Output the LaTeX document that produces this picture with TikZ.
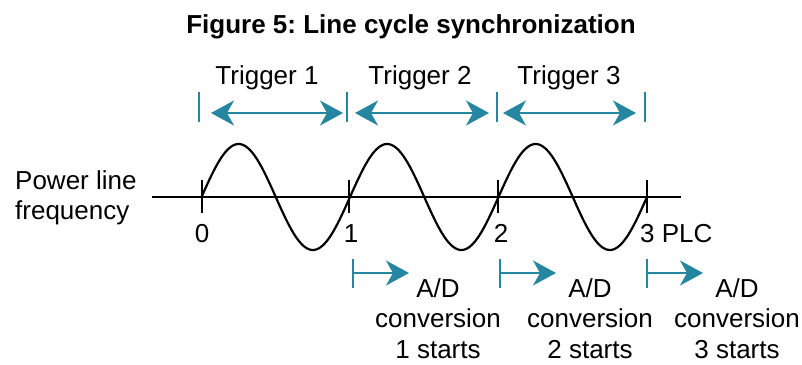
\documentclass[tikz,border=0pt]{standalone}
\usepackage{fontspec}
\setmainfont{Liberation Sans}
\usetikzlibrary{arrows.meta}
\definecolor{myteal}{RGB}{36,134,160}
\frenchspacing
\begin{document}
\begin{tikzpicture}[x=1pt,y=-1pt,
  lbl/.style={inner sep=0pt, font=\fontsize{26}{30.5}\selectfont},
  ttl/.style={inner sep=0pt, font=\fontsize{26}{30}\selectfont\bfseries},
  axisline/.style={line width=2pt, black},
  wave/.style={line width=2.2pt, black},
  bluetick/.style={line width=1.8pt, myteal},
  tip/.tip={Stealth[length=23pt,width=25pt,inset=7pt]},
  barrow/.style={line width=1.8pt, myteal, -tip},
  dbarrow/.style={line width=1.8pt, myteal, tip-tip}]
\useasboundingbox (0,0) rectangle (802,364);

% title
\node[ttl, anchor=base] (title) at (411,33) {Figure 5: Line cycle synchronization};

% trigger ticks
\foreach \n/\x in {0/199,1/347,2/497,3/645}{
  \coordinate (u\n) at (\x,92);
  \coordinate (l\n) at (\x,122);
  \draw[bluetick] (u\n) -- (l\n);
}
% trigger arrows
\coordinate (a1s) at (211,113); \coordinate (a1e) at (343,113);
\coordinate (a2s) at (355,113); \coordinate (a2e) at (489,113);
\coordinate (a3s) at (503,113); \coordinate (a3e) at (636,113);
\draw[dbarrow] (a1s) -- (a1e);
\draw[dbarrow] (a2s) -- (a2e);
\draw[dbarrow] (a3s) -- (a3e);
\node[lbl, anchor=base] (trig1) at (267,84) {Trigger 1};
\node[lbl, anchor=base] (trig2) at (420,84) {Trigger 2};
\node[lbl, anchor=base] (trig3) at (569,84) {Trigger 3};

% axis
\coordinate (axl) at (152,197);
\coordinate (axr) at (681,197);
\draw[axisline] (axl) -- (axr);
\foreach \n/\x in {0/201.5,1/349,2/498,3/647}{
  \coordinate (tt\n) at (\x,180);
  \coordinate (tb\n) at (\x,213);
  \draw[axisline] (tt\n) -- (tb\n);
}
% sine wave
\draw[wave, smooth] plot[domain=201.5:647, samples=240] (\x, {197-53*sin((\x-201.5)/148.5*360)});

% labels
\node[lbl, anchor=north west, align=left] (plf) at (15,170) {Power line\\frequency};
\node[lbl, anchor=base] (lab0) at (202,242) {0};
\node[lbl, anchor=base] (lab1) at (351,242) {1};
\node[lbl, anchor=base] (lab2) at (501,242) {2};
\node[lbl, anchor=base west] (lab3) at (640,242) {3 PLC};

% A/D conversion markers
\foreach \n/\x/\c in {1/353/438,2/500/590,3/647/737}{
  \coordinate (ct\n) at (\x,259);
  \coordinate (cb\n) at (\x,288);
  \coordinate (cs\n) at (\x,273);
  \coordinate (ce\n) at (\x+56,273);
  \draw[bluetick] (ct\n) -- (cb\n);
  \draw[barrow] (cs\n) -- (ce\n);
  \node[lbl, anchor=north, align=center] (ad\n) at (\c,278) {A/D\\conversion\\\n\ starts};
}
\end{tikzpicture}
\end{document}
